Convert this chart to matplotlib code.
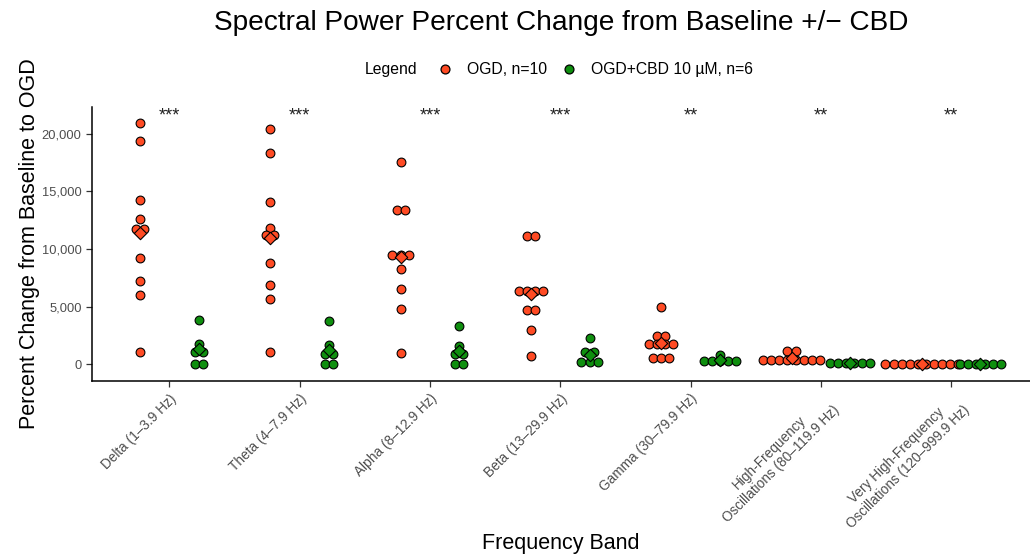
import numpy as np
import matplotlib
matplotlib.use("Agg")
import matplotlib.pyplot as plt
from matplotlib.lines import Line2D
from matplotlib.ticker import StrMethodFormatter

plt.rcParams['font.family'] = ['Liberation Sans', 'DejaVu Sans']

bands = ["Delta (1\u20133.9 Hz)", "Theta (4\u20137.9 Hz)", "Alpha (8\u201312.9 Hz)",
         "Beta (13\u201329.9 Hz)", "Gamma (30\u201379.9 Hz)",
         "High-Frequency\nOscillations (80\u2013119.9 Hz)",
         "Very High-Frequency\nOscillations (120\u2013999.9 Hz)"]
stars = ["***", "***", "***", "***", "**", "**", "**"]

# percent change per animal
ogd = [
    [20900, 19340, 14220, 12620, 11700, 11700, 9250, 7220, 6020, 1050],
    [20390, 18350, 14020, 11780, 11200, 11200, 8790, 6870, 5650, 1020],
    [17510, 13350, 13350, 9450, 9450, 9450, 8260, 6520, 4800, 990],
    [11140, 11140, 6310, 6310, 6310, 6310, 4740, 4740, 2990, 720],
    [4970, 2420, 2420, 1750, 1750, 1750, 1750, 550, 550, 550],
    [1160, 1160, 380, 380, 380, 380, 380, 380, 380, 380],
    [60, 60, 60, 60, 60, 60, 60, 60, 60, 60],
]
cbd = [
    [3840, 1720, 1020, 1020, 60, 60],
    [3720, 1660, 930, 930, 60, 60],
    [3290, 1570, 870, 870, 30, 30],
    [2270, 1020, 1020, 200, 200, 200],
    [780, 290, 290, 290, 290, 290],
    [110, 110, 110, 110, 110, 110],
    [20, 20, 20, 20, 20, 20],
]

groups = ["OGD, n=10", "OGD+CBD 10 \u00b5M, n=6"]
colors = ["#FF4B24", "#0F8F0F"]


def swarm_offsets(vals, step, tol=400):
    # bin close values into rows, then centre each row
    vals = np.asarray(vals, dtype=float)
    order = np.argsort(-vals)
    offs = np.zeros(len(vals))
    rows = []
    for i in order:
        if rows and rows[-1][0] - vals[i] < tol:
            rows[-1][1].append(i)
        else:
            rows.append([vals[i], [i]])
    for _, idx in rows:
        n = len(idx)
        for k, i in enumerate(idx):
            offs[i] = (k - (n - 1) / 2) * step
    return offs


fig = plt.figure(figsize=(10.3, 5.55), dpi=100)
ax = fig.add_axes([0.0893, 0.3135, 0.9107, 0.4935])

dodge = 0.225
step = 0.062
for g, (data, col) in enumerate(zip([ogd, cbd], colors)):
    sign = -1 if g == 0 else 1
    for i, vals in enumerate(data):
        x0 = i + sign * dodge
        xs = x0 + swarm_offsets(vals, step)
        ax.scatter(xs, vals, s=40, color=col, edgecolor='black', linewidth=0.8, zorder=3)
        ax.scatter([x0], [np.mean(vals)], marker='D', s=40, color=col,
                   edgecolor='black', linewidth=0.8, zorder=4)

for i, s in enumerate(stars):
    ax.text(i, 21500, s, ha='center', va='center', fontsize=13, color='#222222')

ax.set_xlim(-0.593, 6.605)
ax.set_ylim(-1452, 22287)
ax.set_xticks(range(len(bands)))
ax.set_xticklabels(bands, rotation=45, ha='right', va='top', rotation_mode='anchor',
                   multialignment='center', fontsize=9.8, color='#4D4D4D')
ax.set_yticks([0, 5000, 10000, 15000, 20000])
ax.yaxis.set_major_formatter(StrMethodFormatter('{x:,.0f}'))
ax.tick_params(axis='y', labelsize=9.3, labelcolor='#4D4D4D')
ax.tick_params(length=4, width=0.9, color='#333333')
for side in ['top', 'right']:
    ax.spines[side].set_visible(False)
for side in ['left', 'bottom']:
    ax.spines[side].set_linewidth(1.1)

ax.set_xlabel("Frequency Band", fontsize=15.5)
ax.xaxis.set_label_coords(0.5, -0.555)
ax.set_ylabel("Percent Change from Baseline to OGD", fontsize=15.5)
ax.yaxis.set_label_coords(-0.055, 0.5)

fig.text(0.545, 0.958, "Spectral Power Percent Change from Baseline +/\u2212 CBD",
         ha='center', va='center', fontsize=20.2)

fig.text(365 / 1030, 0.874, "Legend", ha='left', va='center', fontsize=11.3)
handles = [Line2D([], [], marker='o', linestyle='none', markersize=6.4,
                  markerfacecolor=c, markeredgecolor='black', markeredgewidth=0.9)
           for c in colors]
fig.legend(handles, groups, loc='center left', bbox_to_anchor=(437 / 1030, 0.874),
           ncol=2, frameon=False, fontsize=11.3, borderpad=0, borderaxespad=0,
           handlelength=1, handletextpad=0.9, columnspacing=0.9)

fig.savefig("out.png", dpi=100)
